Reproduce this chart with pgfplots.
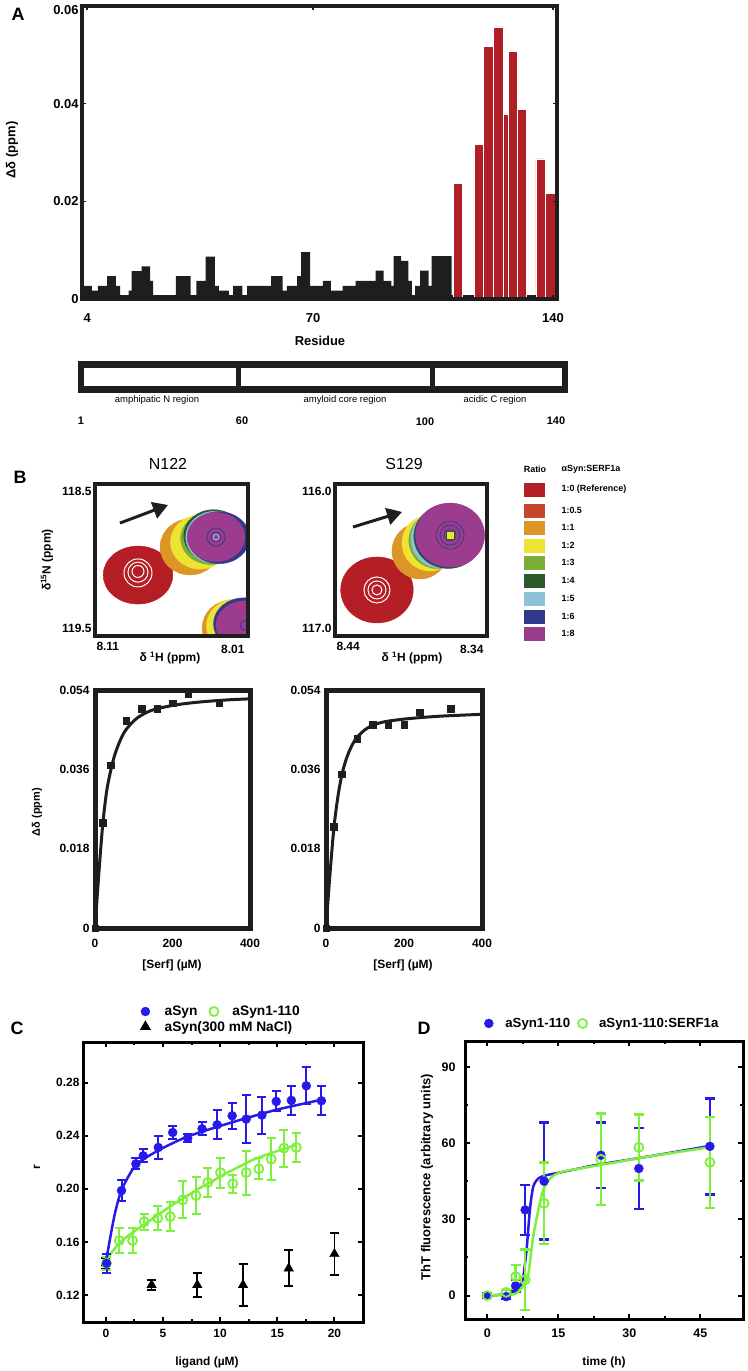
\documentclass[border=0pt]{standalone}
\usepackage{pgfplots}
\pgfplotsset{compat=1.18}
\usepackage{fontspec}
\setmainfont{Liberation Sans}
\usetikzlibrary{arrows.meta}
\newcommand{\fsz}[1]{\fontsize{#1}{#1}\selectfont}
\definecolor{cA}{HTML}{1E1E1E}
\definecolor{cRed}{HTML}{B11F26}
\definecolor{c0}{HTML}{B41E24}
\definecolor{c05}{HTML}{C5462B}
\definecolor{c1}{HTML}{DD9527}
\definecolor{c2}{HTML}{EDE333}
\definecolor{c3}{HTML}{7AAE37}
\definecolor{c4}{HTML}{2D5A2D}
\definecolor{c5}{HTML}{8EC2D8}
\definecolor{c6}{HTML}{32398B}
\definecolor{c8}{HTML}{9C3C8E}
\definecolor{cblue}{RGB}{40,25,235}
\definecolor{cgreen}{RGB}{125,240,60}
\pgfplotsset{
  every axis/.append style={scaled ticks=false},
  blob/.style n args={3}{only marks, mark=*, mark size=#2, mark options={draw=#1, fill=#1, xscale=#3}},
  ring/.style n args={3}{only marks, mark=o, mark size=#2, mark options={draw=#1, line width=#3, fill=none}},
}
\begin{document}
\begin{tikzpicture}[x=1bp,y=1bp]
\useasboundingbox (0,0) rectangle (747,-1371);

% ---------------- Panel A ----------------
\node[font=\bfseries\fsz{18}] at (18,-14) {A};
\node[font=\bfseries\fsz{13}, rotate=90] at (12,-150) {Δδ (ppm)};
\node[font=\bfseries\fsz{13}] at (320,-341) {Residue};
\begin{axis}[scale only axis, width=475bp, height=293bp, at={(82bp,-299bp)}, anchor=south west,
  xmin=2.5, xmax=141.2, ymin=0, ymax=0.06,
  axis line style={line width=4bp, cA}, axis on top,
  xtick={4,70,140}, xticklabels={4,70,140},
  ytick={0,0.02,0.04}, yticklabels={0,0.02,0.04},
  extra y ticks={0.06}, extra y tick labels={0.06}, extra y tick style={yticklabel style={yshift=-4bp}},
  tick label style={font=\bfseries\fsz{13}},
  xticklabel style={yshift=-11bp},
  tick align=inside, major tick length=4bp, tick style={line width=1.5bp, cA}]
\addplot[ybar interval, fill=cA, draw=none] coordinates {
(3.0,0.0027) (5.4,0.0017) (7.1,0.0027) (9.8,0.0047) (12.4,0.0027) (13.6,0.0008)
(16.1,0.0017) (17.0,0.0057) (19.9,0.0067) (22.4,0.0037) (23.3,0.0008) (29.9,0.0047)
(34.2,0.0008) (35.9,0.0037) (38.6,0.0087) (41.3,0.0027) (42.5,0.0017) (45.4,0.0008)
(46.6,0.0027) (49.3,0.0008) (50.7,0.0027) (54.3,0.0027) (57.7,0.0047) (61.1,0.0017)
(62.3,0.0027) (65.3,0.0047) (66.5,0.0096) (69.1,0.0027) (72.8,0.0037) (75.2,0.0017)
(78.6,0.0027) (82.4,0.0037) (85.3,0.0037) (88.2,0.0058) (90.6,0.0037) (92.8,0.0027)
(93.5,0.0088) (95.7,0.0078) (97.8,0.0037) (98.8,0.0008) (99.8,0.0027) (101.2,0.0058)
(103.7,0.0027) (104.6,0.0088) (107.7,0.0088) (110.4,0.0008) (140.3,0.0008)};
\addplot[ybar interval, fill=cRed, draw=white, line width=0.25bp] coordinates {(111.0,0.0237) (113.5,0.0237)};
\addplot[ybar interval, fill=cRed, draw=white, line width=0.25bp] coordinates {
(117.0,0.0317) (119.7,0.0517) (122.6,0.0557) (125.5,0.0378) (127.0,0.0507) (129.5,0.0388) (132.3,0.0388)};
\addplot[ybar interval, fill=cRed, draw=white, line width=0.25bp] coordinates {(135.0,0.0287) (137.8,0.0217) (140.6,0.0217)};
\end{axis}

% region schematic
\fill[cA] (78,-361) rectangle (568,-393);
\fill[white] (84,-368) rectangle (236,-386);
\fill[white] (241,-368) rectangle (430,-386);
\fill[white] (435,-368) rectangle (562,-386);
\node[font=\fsz{9.5}] at (157,-400) {amphipatic N region};
\node[font=\fsz{9.5}] at (345,-400) {amyloid core region};
\node[font=\fsz{9.5}] at (495,-400) {acidic C region};
\node[font=\bfseries\fsz{11}] at (81,-421) {1};
\node[font=\bfseries\fsz{11}] at (242,-421) {60};
\node[font=\bfseries\fsz{11}] at (425,-422) {100};
\node[font=\bfseries\fsz{11}] at (556,-421) {140};

% ---------------- Panel B ----------------
\node[font=\bfseries\fsz{18}] at (20,-477) {B};
\node[font=\fsz{16}] at (168,-464) {N122};
\node[font=\fsz{16}] at (404,-464) {S129};
\node[font=\bfseries\fsz{12}, rotate=90] at (47,-560) {δ\textsuperscript{15}N (ppm)};
\node[font=\bfseries\fsz{12}] at (170,-658) {δ \textsuperscript{1}H (ppm)};
\node[font=\bfseries\fsz{12}] at (412,-658) {δ \textsuperscript{1}H (ppm)};

\begin{axis}[scale only axis, width=153bp, height=152bp, at={(95bp,-636bp)}, anchor=south west,
  xmin=8.01, xmax=8.11, x dir=reverse, ymin=118.5, ymax=119.5, y dir=reverse,
  axis line style={line width=4bp, cA}, axis on top, clip marker paths=true,
  major tick length=0, tick label style={font=\bfseries\fsz{12}},
  xtick={8.11}, xticklabels={8.11}, xticklabel style={anchor=north west, xshift=-2bp, yshift=-3bp},
  extra x ticks={8.01}, extra x tick labels={8.01}, extra x tick style={xticklabel style={anchor=north east, xshift=2bp, yshift=-3bp}},
  ytick={118.5}, yticklabels={118.5}, yticklabel style={anchor=north east},
  extra y ticks={119.5}, extra y tick labels={119.5}, extra y tick style={yticklabel style={anchor=south east}}]
\addplot[blob={c0}{29bp}{1.2}] coordinates {(8.0819,119.099) (8.0086,119.382)};
\addplot[ring={white}{6bp}{1bp}] coordinates {(8.0819,119.075)};
\addplot[ring={white}{10bp}{1bp}] coordinates {(8.0819,119.080)};
\addplot[ring={white}{14bp}{1bp}] coordinates {(8.0819,119.085)};
\addplot[blob={c1}{28bp}{1.07}] coordinates {(8.0479,118.914) (8.0204,119.447)};
\addplot[blob={c2}{27bp}{1.1}] coordinates {(8.0413,118.882) (8.0178,119.434)};
\addplot[blob={c3}{26bp}{1.15}] coordinates {(8.0345,118.858)};
\addplot[blob={c4}{26bp}{1.15}] coordinates {(8.0325,118.840)};
\addplot[blob={c5}{26bp}{1.15}] coordinates {(8.0312,118.850)};
\addplot[blob={c6}{26bp}{1.18}] coordinates {(8.0290,118.853) (8.0125,119.420)};
\addplot[blob={c8}{24.5bp}{1.18}] coordinates {(8.0309,118.849) (8.0120,119.430)};
\addplot[ring={c6}{5bp}{0.8bp}] coordinates {(8.0309,118.849)};
\addplot[ring={c6}{9bp}{0.8bp}] coordinates {(8.0309,118.849)};
\addplot[ring={c5}{3bp}{1bp}] coordinates {(8.0309,118.849)};
\addplot[ring={c6}{5bp}{0.8bp}] coordinates {(8.0120,119.430)};
\draw[line width=3bp, cA, -{Triangle[length=15bp,width=17bp]}] (axis cs:8.0937,118.757) -- (axis cs:8.0623,118.638);
\end{axis}

\begin{axis}[scale only axis, width=152bp, height=152bp, at={(335bp,-636bp)}, anchor=south west,
  xmin=8.34, xmax=8.44, x dir=reverse, ymin=116.0, ymax=117.0, y dir=reverse,
  axis line style={line width=4bp, cA}, axis on top, clip marker paths=true,
  major tick length=0, tick label style={font=\bfseries\fsz{12}},
  xtick={8.44}, xticklabels={8.44}, xticklabel style={anchor=north west, xshift=-2bp, yshift=-3bp},
  extra x ticks={8.34}, extra x tick labels={8.34}, extra x tick style={xticklabel style={anchor=north east, xshift=2bp, yshift=-3bp}},
  ytick={116.0}, yticklabels={116.0}, yticklabel style={anchor=north east},
  extra y ticks={117.0}, extra y tick labels={117.0}, extra y tick style={yticklabel style={anchor=south east}}]
\addplot[blob={c0}{33bp}{1.1}] coordinates {(8.4124,116.697)};
\addplot[ring={white}{5bp}{1bp}] coordinates {(8.4124,116.697)};
\addplot[ring={white}{9bp}{1bp}] coordinates {(8.4124,116.697)};
\addplot[ring={white}{13bp}{1bp}] coordinates {(8.4124,116.697)};
\addplot[blob={c1}{28bp}{1.0}] coordinates {(8.3841,116.441)};
\addplot[blob={c2}{28bp}{1.0}] coordinates {(8.3775,116.388)};
\addplot[blob={c3}{28bp}{1.0}] coordinates {(8.3730,116.372)};
\addplot[blob={c5}{29bp}{1.0}] coordinates {(8.3709,116.362)};
\addplot[blob={c4}{32bp}{1.07}] coordinates {(8.3656,116.345)};
\addplot[blob={c6}{32bp}{1.07}] coordinates {(8.3650,116.340)};
\addplot[blob={c8}{32bp}{1.08}] coordinates {(8.3643,116.336)};
\addplot[ring={c6}{6bp}{0.7bp}] coordinates {(8.3643,116.336)};
\addplot[ring={c6}{10bp}{0.7bp}] coordinates {(8.3643,116.336)};
\addplot[ring={c6}{14bp}{0.7bp}] coordinates {(8.3643,116.336)};
\addplot[only marks, mark=square*, mark size=4bp, mark options={fill=c2, draw=c4, line width=1bp}] coordinates {(8.3643,116.336)};
\draw[line width=3bp, cA, -{Triangle[length=15bp,width=17bp]}] (axis cs:8.4282,116.283) -- (axis cs:8.3959,116.184);
\end{axis}

% ratio legend
\node[font=\bfseries\fsz{9}] at (535,-469) {Ratio};
\node[font=\bfseries\fsz{9}, anchor=west] at (558,-469) {αSyn:SERF1a};
\foreach \c/\yy/\lab in {c0/490/{1:0 (Reference)}, c05/511/{1:0.5}, c1/528/{1:1}, c2/546/{1:2}, c3/563/{1:3}, c4/581/{1:4}, c5/599/{1:5}, c6/617/{1:6}, c8/634/{1:8}}{
  \fill[\c] (524,-\yy+7) rectangle (545,-\yy-7);
  \node[font=\bfseries\fsz{9}, anchor=west] at (558,-\yy+1) {\lab};
}

% titration fits
\node[font=\bfseries\fsz{11}, rotate=90] at (37,-812) {Δδ (ppm)};
\node[font=\bfseries\fsz{12}] at (172,-965) {[Serf] (µM)};
\node[font=\bfseries\fsz{12}] at (403,-965) {[Serf] (µM)};
\begin{axis}[scale only axis, width=155bp, height=238bp, at={(95bp,-928bp)}, anchor=south west,
  xmin=0, xmax=400, ymin=0, ymax=0.054,
  axis line style={line width=5bp, cA}, axis on top,
  xtick={0,200,400}, xticklabels={0,200,400},
  ytick={0,0.018,0.036,0.054}, yticklabels={0,0.018,0.036,0.054},
  major tick length=0, tick label style={font=\bfseries\fsz{12}}, xticklabel style={yshift=-8bp}, yticklabel style={xshift=-2bp}]
\addplot[cA, line width=3bp, smooth, tension=0.5] coordinates {
(0,0) (10,0.0125) (20,0.0235) (30,0.031) (40,0.0355) (50,0.039) (60,0.0415) (70,0.0435) (80,0.045)
(100,0.047) (120,0.0483) (150,0.0495) (200,0.0505) (250,0.0511) (300,0.0515) (350,0.0518) (400,0.0520)};
\addplot[only marks, mark=square*, mark size=3.2bp, cA] coordinates {
(0,0) (20,0.0239) (40,0.0370) (80,0.0470) (120,0.0498) (160,0.0498) (200,0.0510) (240,0.0530) (320,0.0510)};
\end{axis}
\begin{axis}[scale only axis, width=156bp, height=238bp, at={(326bp,-928bp)}, anchor=south west,
  xmin=0, xmax=400, ymin=0, ymax=0.054,
  axis line style={line width=5bp, cA}, axis on top,
  xtick={0,200,400}, xticklabels={0,200,400},
  ytick={0,0.018,0.036,0.054}, yticklabels={0,0.018,0.036,0.054},
  major tick length=0, tick label style={font=\bfseries\fsz{12}}, xticklabel style={yshift=-8bp}, yticklabel style={xshift=-2bp}]
\addplot[cA, line width=3bp, smooth, tension=0.5] coordinates {
(0,0) (10,0.012) (20,0.0225) (30,0.0295) (40,0.0345) (50,0.0378) (60,0.0402) (70,0.042) (80,0.0433)
(100,0.045) (120,0.046) (150,0.0468) (200,0.0474) (250,0.0478) (300,0.0481) (350,0.0483) (400,0.0485)};
\addplot[only marks, mark=square*, mark size=3.2bp, cA] coordinates {
(0,0) (20,0.0230) (40,0.0349) (80,0.0430) (120,0.0461) (160,0.0461) (200,0.0461) (240,0.0489) (320,0.0498)};
\end{axis}

% ---------------- Panel C ----------------
\node[font=\bfseries\fsz{18}] at (17,-1028) {C};
\node[font=\bfseries\fsz{12}, rotate=90] at (37,-1167) {r};
\node[font=\bfseries\fsz{12}] at (207,-1362) {ligand (µM)};
\begin{axis}[scale only axis, width=280bp, height=280bp, at={(83bp,-1322bp)}, anchor=south west,
  xmin=-2, xmax=22.5, ymin=0.0996, ymax=0.3107,
  axis line style={line width=3bp, black}, 
  xtick={0,5,10,15,20}, xticklabels={0,5,10,15,20}, minor x tick num=1,
  ytick={0.12,0.16,0.20,0.24,0.28}, yticklabels={0.12,0.16,0.20,0.24,0.28},
  tick align=inside, major tick length=5bp, minor tick length=3bp, tick style={line width=2bp, black},
  tick label style={font=\bfseries\fsz{12}}, xticklabel style={yshift=-4bp},
  legend columns=2, legend cell align=left,
  legend style={draw=none, fill=none, font=\bfseries\fsz{13.8}, at={(axis description cs:0.193,1.019)}, anchor=south west,
    /tikz/every odd column/.append style={column sep=12bp},
    /tikz/every even column/.append style={column sep=10bp}, row sep=0bp}]
\addlegendimage{only marks, mark=*, mark size=4.5bp, cblue}
\addlegendentry{aSyn}
\addlegendimage{only marks, mark=o, mark size=4.5bp, mark options={line width=1.8bp}, cgreen}
\addlegendentry{aSyn1-110}
\addlegendimage{only marks, mark=triangle*, mark size=6bp, black}
\addlegendentry{\makebox[0pt][l]{aSyn(300 mM NaCl)}}
\addplot[forget plot, only marks, mark=triangle*, mark size=5.5bp, black,
  error bars/.cd, y dir=both, y explicit, error bar style={line width=1.8bp, black}, error mark options={rotate=90, mark size=4.5bp, line width=1.8bp, black}]
  table[row sep=\\, x index=0, y index=1, y error index=2] {
0 0.1439 0.004\\ 4 0.1275 0.0035\\ 8 0.1275 0.0088\\ 12 0.1275 0.0157\\ 16 0.1401 0.0136\\ 20 0.1509 0.0157\\};
\addplot[forget plot, only marks, mark=o, mark size=4.5bp, cgreen, mark options={line width=1.8bp, fill=white},
  error bars/.cd, y dir=both, y explicit, error bar style={line width=2bp, cgreen}, error mark options={rotate=90, mark size=4.5bp, line width=2bp, cgreen}]
  table[row sep=\\, x index=0, y index=1, y error index=2] {
0.06 0.1440 0.005\\ 1.17 0.1610 0.0095\\ 2.34 0.1610 0.0095\\ 3.36 0.1753 0.006\\ 4.53 0.1779 0.009\\
5.64 0.1791 0.011\\ 6.73 0.1917 0.014\\ 7.89 0.1950 0.014\\ 8.92 0.2048 0.011\\ 10.03 0.2123 0.0113\\
11.11 0.2038 0.007\\ 12.28 0.2123 0.0166\\ 13.39 0.2151 0.008\\ 14.47 0.2224 0.0157\\ 15.58 0.2307 0.014\\ 16.67 0.2312 0.011\\};
\addplot[forget plot, cgreen, line width=2.5bp, smooth] coordinates {
(0.06,0.1469) (1.17,0.159) (2.34,0.167) (3.51,0.174) (4.68,0.1811) (5.85,0.188) (7.02,0.1942) (8.19,0.2005)
(9.36,0.2060) (10.53,0.2118) (11.70,0.2168) (12.87,0.2219) (14.04,0.2257) (15.50,0.2299) (16.67,0.2332)};
\addplot[forget plot, only marks, mark=*, mark size=4.5bp, cblue,
  error bars/.cd, y dir=both, y explicit, error bar style={line width=2bp, cblue}, error mark options={rotate=90, mark size=4.5bp, line width=2bp, cblue}]
  table[row sep=\\, x index=0, y index=1, y error index=2] {
0.06 0.1439 0.007\\ 1.37 0.1987 0.008\\ 2.63 0.2189 0.004\\ 3.27 0.2249 0.005\\ 4.59 0.2312 0.009\\
5.85 0.2425 0.005\\ 7.16 0.2382 0.003\\ 8.42 0.2453 0.005\\ 9.74 0.2483 0.011\\ 11.05 0.2551 0.010\\
12.28 0.2526 0.018\\ 13.65 0.2556 0.014\\ 14.91 0.2659 0.0075\\ 16.23 0.2667 0.011\\ 17.54 0.2777 0.014\\ 18.86 0.2664 0.011\\};
\addplot[forget plot, cblue, line width=2.5bp, smooth, tension=0.4] coordinates {
(0.06,0.1477) (0.73,0.179) (1.37,0.199) (2.63,0.218) (4.68,0.2294) (7.02,0.239) (9.65,0.2465)
(12.28,0.2533) (14.91,0.2596) (17.54,0.2647) (18.86,0.2672)};
\end{axis}

% ---------------- Panel D ----------------
\node[font=\bfseries\fsz{18}] at (424,-1028) {D};
\node[font=\bfseries\fsz{13}, rotate=90] at (427,-1177) {ThT fluorescence (arbitrary units)};
\node[font=\bfseries\fsz{12}] at (604,-1362) {time (h)};
\begin{axis}[scale only axis, width=278bp, height=277.7bp, at={(465bp,-1319bp)}, anchor=south west,
  xmin=-4.7, xmax=54, ymin=-9.2, ymax=100,
  axis line style={line width=3bp, black},
  xtick={0,15,30,45}, xticklabels={0,15,30,45}, minor x tick num=1,
  ytick={0,30,60,90}, yticklabels={0,30,60,90}, minor y tick num=1,
  tick align=inside, major tick length=5bp, minor tick length=3bp, tick style={line width=2bp, black},
  tick label style={font=\bfseries\fsz{12.5}}, xticklabel style={yshift=-6bp}, yticklabel style={xshift=-6bp},
  legend columns=2,
  legend style={draw=none, fill=none, font=\bfseries\fsz{13.3}, at={(axis description cs:0.058,1.03)}, anchor=south west,
    /tikz/every odd column/.append style={column sep=10bp},
    /tikz/every even column/.append style={column sep=6bp}}]
\addlegendimage{only marks, mark=*, mark size=4.5bp, cblue}
\addlegendentry{aSyn1-110}
\addlegendimage{only marks, mark=o, mark size=4.5bp, mark options={line width=1.8bp}, cgreen}
\addlegendentry{aSyn1-110:SERF1a}
\addplot[forget plot, cblue, line width=2.5bp, smooth, tension=0.45] coordinates {
(0,0) (5.5,0.9) (6.9,3.5) (7.6,7.5) (8.3,18) (9.0,33.7) (9.7,42.8) (10.8,46.1) (12.6,47.4) (16.1,48.7)
(23.1,51.4) (33.7,54.6) (46.8,58.8)};
\addplot[forget plot, only marks, mark=*, mark size=4.5bp, cblue,
  error bars/.cd, y dir=both, y explicit, error bar style={line width=2.5bp, cblue}, error mark options={rotate=90, mark size=5bp, line width=2.5bp, cblue}]
  table[row sep=\\, x index=0, y index=1, y error index=2] {
0 0 0.8\\ 4 -0.4 1.0\\ 6 3.9 2.3\\ 8 33.7 9.8\\ 12 45 23\\ 24 55.2 12.9\\ 32 50 16\\ 47 58.7 18.9\\};
\addplot[forget plot, cgreen, line width=2.5bp, smooth, tension=0.45] coordinates {
(0,0) (5.5,0.5) (6.9,2.2) (8,4.8) (8.7,8.8) (9.7,23.2) (10.8,33.7) (11.8,41.5) (13.3,46.1) (15.4,48.5)
(19.6,50) (26.7,52.3) (33.7,54.6) (46.8,58.3)};
\addplot[forget plot, only marks, mark=o, mark size=4.5bp, cgreen, mark options={line width=1.8bp, fill=white, fill opacity=0},
  error bars/.cd, y dir=both, y explicit, error bar style={line width=2.5bp, cgreen}, error mark options={rotate=90, mark size=5bp, line width=2.5bp, cgreen}]
  table[row sep=\\, x index=0, y index=1, y error index=2] {
0 0 0.6\\ 4 1.3 1.0\\ 6 7.5 4.6\\ 8 6.2 11.9\\ 12 36.3 16\\ 24 53.6 18\\ 32 58.3 13\\ 47 52.4 17.9\\};
\end{axis}
\end{tikzpicture}
\end{document}
